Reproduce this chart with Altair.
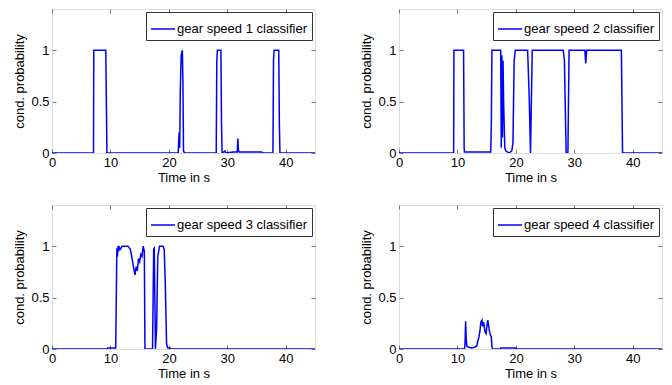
import altair as alt
import pandas as pd

# ---- data ----
labels = ["gear speed 1 classifier", "gear speed 2 classifier",
          "gear speed 3 classifier", "gear speed 4 classifier"]

g1_t = [0, 7.1, 7.15, 9.2, 9.3, 9.4, 21.6, 21.75, 21.85, 21.95, 22.1, 22.3, 22.4, 22.5, 22.7,
        28.1, 28.2, 28.3, 28.9, 29.0, 29.1, 29.6, 29.7, 31.0, 31.7, 31.8, 31.9, 32.0, 35.9, 36.0,
        37.8, 37.9, 38.0, 38.8, 38.9, 39.0, 45]
g1_p = [0, 0, 1, 1, 0.5, 0, 0, 0.2, 0.05, 0.6, 0.95, 1, 0.7, 0.02, 0,
        0, 0.9, 1, 1, 0.3, 0, 0.02, 0, 0.01, 0.01, 0.14, 0.03, 0.01, 0.01, 0,
        0, 0.9, 1, 1, 0.3, 0, 0]

g2_t = [0, 9.35, 9.4, 11.05, 11.15, 11.2, 15.7, 15.8, 15.9, 17.4, 17.5, 17.6, 17.7, 17.8, 17.9,
        18.1, 18.3, 18.8, 19.3, 19.5, 19.7, 19.9, 22.0, 22.1, 22.3, 22.5, 22.65, 22.8,
        28.1, 28.3, 28.6, 28.9, 29.0, 29.1, 31.8, 31.95, 32.1, 38.05, 38.25, 45]
g2_p = [0, 0, 1, 1, 0.05, 0.01, 0.01, 0.3, 1, 1, 0.05, 0.95, 0.15, 0.9, 0.5,
        0.05, 0.02, 0, 0.02, 0.1, 0.9, 1, 1, 0.85, 0.5, 0, 0.5, 1,
        1, 0.9, 0, 0, 0.5, 1, 1, 0.87, 1, 1, 0, 0]

g3_t = [0, 9.4, 9.5, 10.9, 11.0, 11.1, 11.2, 11.3, 11.4, 11.5, 11.7, 12.0, 12.5, 13.0, 13.4,
        13.7, 14.0, 14.2, 14.4, 14.6, 14.8, 15.0, 15.2, 15.4, 15.6, 15.8, 15.9, 17.2, 17.4,
        17.5, 17.7, 17.9, 18.1, 18.4, 18.7, 19.0, 19.2, 19.4, 19.6, 19.8, 20.2, 20.3, 45]
g3_p = [0, 0, 0.01, 0.01, 0.5, 0.98, 0.9, 1, 0.95, 0.99, 0.97, 1, 1, 1, 0.97,
        0.88, 0.78, 0.72, 0.8, 0.76, 0.88, 0.85, 0.92, 0.9, 1, 0.95, 0, 0, 0.97,
        0.98, 0, 0.2, 0.9, 1, 1, 1, 0.97, 0.6, 0.05, 0.01, 0.01, 0, 0]

g4_t = [0, 11.2, 11.3, 11.4, 11.5, 11.6, 11.8, 12.5, 13.0, 13.3, 13.5, 13.7, 13.9, 14.0, 14.2,
        14.3, 14.5, 14.7, 14.9, 15.1, 15.2, 15.4, 15.6, 15.8, 15.9, 16.0, 17.3, 17.4, 20.0, 20.1, 45]
g4_p = [0, 0, 0.05, 0.27, 0.1, 0.03, 0.02, 0.01, 0.02, 0.03, 0.08, 0.12, 0.2, 0.26, 0.28,
        0.22, 0.26, 0.17, 0.15, 0.25, 0.28, 0.2, 0.14, 0.12, 0.02, 0, 0, 0.01, 0.01, 0, 0]

x_ticks = [0, 10, 20, 30, 40]
y_ticks = [0, 0.5, 1]

BLUE = "#0000ff"
FONT = "Liberation Sans"
W, H = 263, 144


def panel(ts, ps, label):
    df = pd.DataFrame({"t": ts, "p": ps, "label": label})
    xs = alt.Scale(domain=[0, 45], nice=False, zero=False)
    ys = alt.Scale(domain=[0, 1.4], nice=False)
    common = dict(domain=False, grid=False, tickSize=4, offset=-4, tickColor="#777777",
                  tickWidth=1)
    line = alt.Chart(df).mark_line(strokeWidth=1.5, clip=True).encode(
        x=alt.X("t:Q", scale=xs,
                axis=alt.Axis(values=x_ticks, title="Time in s", labelPadding=3,
                              titlePadding=2, labelFontSize=13, titleFontSize=13,
                              titleFontWeight="normal", labelColor="black",
                              titleColor="black", labelFont=FONT, titleFont=FONT,
                              labelFlush=False, **common)),
        y=alt.Y("p:Q", scale=ys,
                axis=alt.Axis(values=y_ticks, format="~g", title="cond. probability",
                              labelPadding=3, titlePadding=4, labelFontSize=13,
                              titleFontSize=13, titleFontWeight="normal",
                              labelColor="black", titleColor="black", labelFont=FONT,
                              titleFont=FONT, labelFlush=False, **common)),
        color=alt.Color("label:N", scale=alt.Scale(domain=[label], range=[BLUE]),
                        legend=alt.Legend(title=None, orient="top-right", offset=3,
                                          symbolType="stroke", symbolSize=576,
                                          symbolStrokeWidth=1.5, labelFontSize=13,
                                          labelFont=FONT, labelColor="black",
                                          labelOffset=1, padding=4,
                                          strokeColor="#333333", fillColor="white",
                                          cornerRadius=0)),
    )
    mirror = alt.Chart(df).mark_line(opacity=0).encode(
        x=alt.X("t:Q", scale=xs,
                axis=alt.Axis(values=x_ticks, orient="top", labels=False, title=None,
                              **common)),
        y=alt.Y("p:Q", scale=ys,
                axis=alt.Axis(values=y_ticks, orient="right", labels=False, title=None,
                              **common)),
    )
    return alt.layer(line, mirror).resolve_axis(x="independent", y="independent") \
        .properties(width=W, height=H)


p1 = panel(g1_t, g1_p, labels[0])
p2 = panel(g2_t, g2_p, labels[1])
p3 = panel(g3_t, g3_p, labels[2])
p4 = panel(g4_t, g4_p, labels[3])

chart = alt.vconcat(
    alt.hconcat(p1, p2, spacing=44).resolve_scale(color="independent"),
    alt.hconcat(p3, p4, spacing=44).resolve_scale(color="independent"),
    spacing=19,
).resolve_scale(color="independent").properties(
    padding={"left": 5, "top": 0, "right": 0, "bottom": 0}
).configure_view(stroke="#888888", strokeWidth=1).configure(background="white")

chart.save("out.html", embed_options={"renderer": "svg", "actions": False})
